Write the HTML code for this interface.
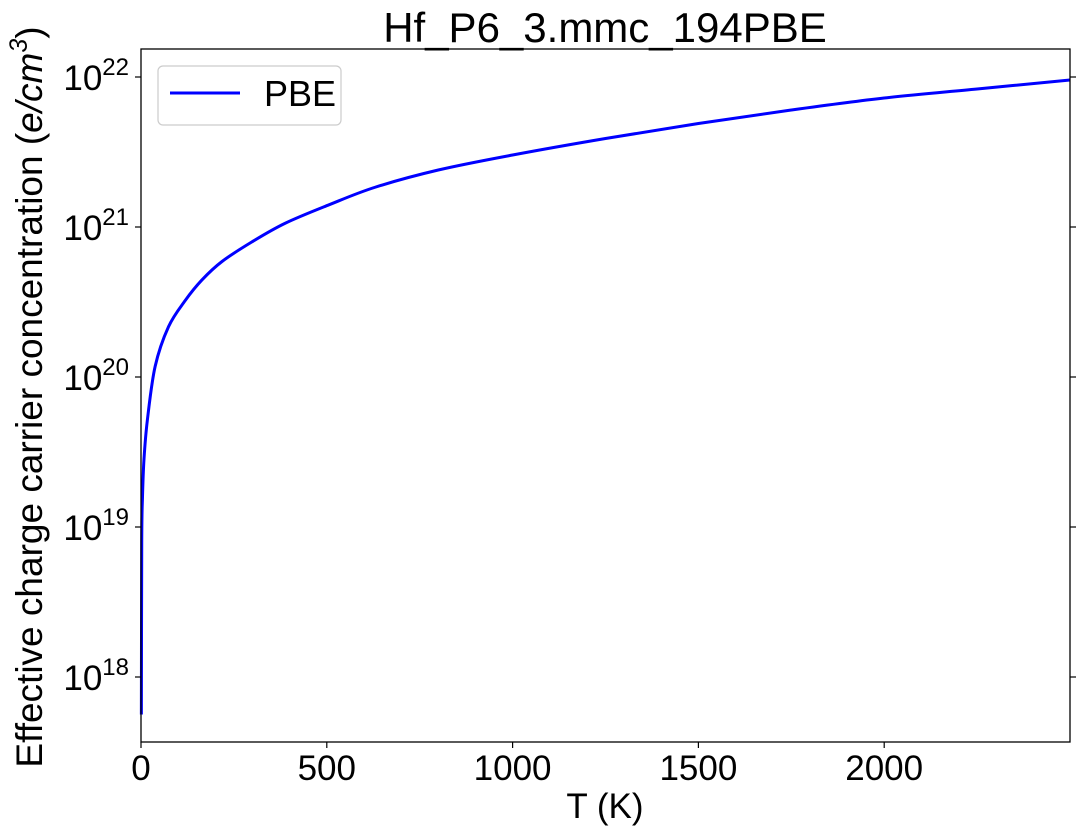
<!DOCTYPE html>
<html><head><meta charset="utf-8"><style>
body{margin:0;background:#fff;}
text{font-family:"Liberation Sans","DejaVu Sans",sans-serif;fill:#000;}
</style></head><body>
<svg id="chart" width="1083" height="833" xmlns="http://www.w3.org/2000/svg">
<text x="605" y="42" font-size="42" text-anchor="middle">Hf_P6_3.mmc_194PBE</text>
<g id="plot"></g>
<text x="605" y="818" font-size="35" text-anchor="middle">T (K)</text>
<text transform="translate(42,397) rotate(-90)" font-size="37" text-anchor="middle">Effective charge carrier concentration (<tspan font-style="italic">e/cm</tspan><tspan font-size="25" dy="-15" font-style="italic">3</tspan><tspan dy="15">)</tspan></text>
<g>
<rect x="158" y="66" width="183" height="59" rx="5" fill="#fff" stroke="#ccc" stroke-width="1.2"/>
<line x1="170" y1="93" x2="240" y2="93" stroke="#0000ff" stroke-width="3"/>
<text x="264" y="106" font-size="36">PBE</text>
</g>
</svg>
<script>
const temps=[1,2,4,8,17,38,74,119,164,218,298,388,505,630,800,1000,1250,1500,1750,2000,2250,2500];
const logConc=[17.75,18.9,19.2,19.45,19.71,20.07,20.335,20.51,20.647,20.77,20.9,21.025,21.147,21.265,21.38,21.48,21.59,21.69,21.78,21.86,21.92,21.98];
const xTicks=[0,500,1000,1500,2000];
const yTickExps=[18,19,20,21,22];
const L=141,R=1070,T=49,B=742;
const xs=v=>L+(v/2500)*(R-L);
const ys=e=>77-(e-22)*150;
const g=document.getElementById('plot');
const NS='http://www.w3.org/2000/svg';
function mk(tag,attrs){const e=document.createElementNS(NS,tag);for(const k in attrs)e.setAttribute(k,attrs[k]);g.appendChild(e);return e;}
const pts=temps.map((t,i)=>[xs(t),ys(logConc[i])]);
let d='M'+pts[0][0]+','+pts[0][1];
for(let i=0;i<pts.length-1;i++){
 const p0=pts[Math.max(0,i-1)],p1=pts[i],p2=pts[i+1],p3=pts[Math.min(pts.length-1,i+2)];
 const c1=[p1[0]+(p2[0]-p0[0])/6,p1[1]+(p2[1]-p0[1])/6];
 const c2=[p2[0]-(p3[0]-p1[0])/6,p2[1]-(p3[1]-p1[1])/6];
 d+='C'+c1[0].toFixed(2)+','+c1[1].toFixed(2)+' '+c2[0].toFixed(2)+','+c2[1].toFixed(2)+' '+p2[0].toFixed(2)+','+p2[1].toFixed(2);
}
const p=mk('path',{d:d,fill:'none',stroke:'#0000ff','stroke-width':3,'stroke-linejoin':'round'});


const fr=mk('rect',{x:L,y:T,width:R-L,height:B-T,fill:'none',stroke:'#000','stroke-width':1.3});


xTicks.forEach(v=>{
 const x=xs(v);
 mk('line',{x1:x,y1:B,x2:x,y2:B+6,stroke:'#000','stroke-width':1.2});
 const t=mk('text',{x:x,y:B+38,'font-size':35,'text-anchor':'middle'});t.textContent=v;
 
 
});
yTickExps.forEach(e=>{
 const y=ys(e);
 mk('line',{x1:L-6,y1:y,x2:L,y2:y,stroke:'#000','stroke-width':1.2});
 mk('line',{x1:R,y1:y,x2:R+6,y2:y,stroke:'#000','stroke-width':1.2});
 const t=mk('text',{x:L-12,y:y+13,'font-size':35});
 
 
 const a=document.createElementNS(NS,'tspan');a.textContent='10';t.appendChild(a);
 const b=document.createElementNS(NS,'tspan');b.setAttribute('font-size','24');b.setAttribute('dy','-15');b.textContent=e;t.appendChild(b);
 const w=t.getComputedTextLength();t.setAttribute('x',L-12-w);
});
</script>
</body></html>
